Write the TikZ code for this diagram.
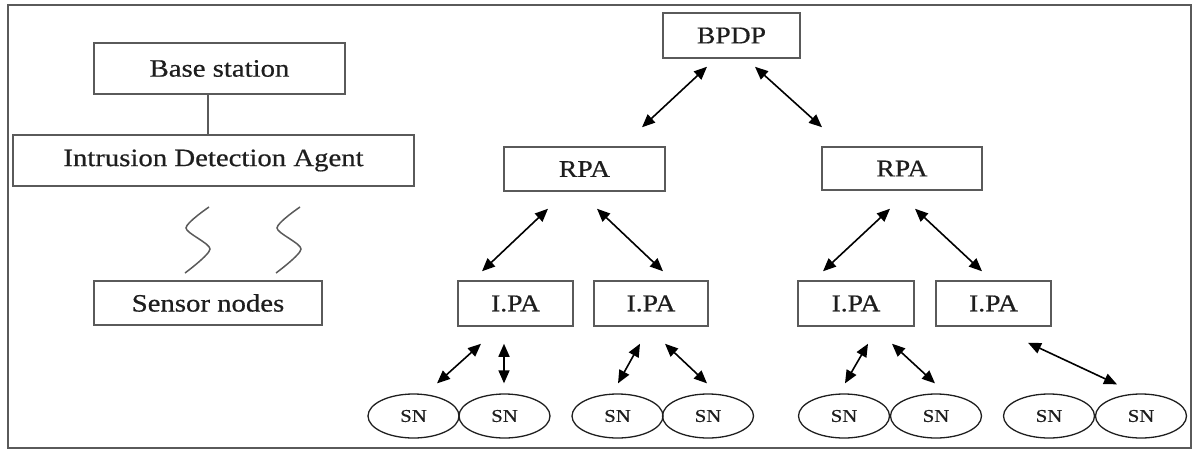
\documentclass[tikz,border=0pt]{standalone}
\usepackage{fontspec}
\setmainfont{Liberation Serif}[FakeStretch=1.15,FakeBold=0.6]
\usetikzlibrary{arrows.meta,shapes.geometric}
\definecolor{boxline}{HTML}{5A5A5A}
\definecolor{ink}{HTML}{1E1E1E}
\begin{document}
\begin{tikzpicture}[x=1pt,y=-1pt,
  box/.style={draw=boxline,line width=1.5pt,text=ink,inner sep=0pt},
  wide/.style={box,font=\fontsize{25}{30}\selectfont},
  agent/.style={box,font=\fontsize{24}{28}\selectfont,minimum height=45pt},
  sensor/.style={draw=ink,line width=1.3pt,ellipse,minimum width=91pt,minimum height=44pt,
    inner sep=0pt,text=ink,font=\fontsize{18}{20}\selectfont},
  link/.style={draw=black,line width=1.6pt,
    {Triangle[length=13pt,width=11pt]}-{Triangle[length=13pt,width=11pt]}},
  wave/.style={draw=boxline,line width=1.5pt}]
\useasboundingbox (0,0) rectangle (1194,450);
% outer frame
\draw[boxline,line width=1.5pt] (8,5) rectangle (1191,448);

% left legend
\node[wide,minimum width=251pt,minimum height=51pt] (bs) at (219.5,68.5) {Base station\hspace{34pt}};
\node[wide,minimum width=401pt,minimum height=51pt] (ida) at (213.5,160.5) {Intrusion Detection Agent};
\node[wide,minimum width=228pt,minimum height=44pt] (snodes) at (208,303) {Sensor nodes\hspace{16pt}};
\draw[boxline,line width=1.5pt] ([xshift=-11.5pt]bs.south) -- ([xshift=-11.5pt]bs.south |- ida.north);

% wireless links
\draw[wave] plot[smooth,tension=0.45] coordinates {(209,207) (186,228) (210,249) (185,273)};
\draw[wave] plot[smooth,tension=0.45] coordinates {(300,207) (277,228) (301,249) (276,273)};

% hierarchy
\node[agent,minimum width=137pt] (bpdp) at (731.5,35.5) {BPDP};
\node[agent,minimum width=161pt,minimum height=44pt] (rpa1) at (584.5,169) {RPA};
\node[agent,minimum width=160pt,minimum height=43pt] (rpa2) at (902,168.5) {RPA};
\node[agent,minimum width=115pt] (lpa1) at (515.5,303.5) {I.PA};
\node[agent,minimum width=114pt] (lpa2) at (651,303.5) {I.PA};
\node[agent,minimum width=116pt] (lpa3) at (856,303.5) {I.PA};
\node[agent,minimum width=115pt] (lpa4) at (993.5,303.5) {I.PA};

\node[sensor] (sn1) at (413.5,416) {SN};
\node[sensor] (sn2) at (504.5,416) {SN};
\node[sensor] (sn3) at (617.5,416) {SN};
\node[sensor] (sn4) at (708,416) {SN};
\node[sensor] (sn5) at (844,416) {SN};
\node[sensor] (sn6) at (936,416) {SN};
\node[sensor] (sn7) at (1049,416) {SN};
\node[sensor] (sn8) at (1141,416) {SN};

% two-way links
\draw[link] ([shift={(-24.5,8)}]bpdp.south) -- ([shift={(57.5,-19)}]rpa1.north);
\draw[link] ([shift={(23.5,8)}]bpdp.south) -- ([shift={(-80,-19)}]rpa2.north);
\draw[link] ([shift={(-36.5,17)}]rpa1.south) -- ([shift={(-33.5,-9)}]lpa1.north);
\draw[link] ([shift={(12.5,17)}]rpa1.south) -- ([shift={(12,-9)}]lpa2.north);
\draw[link] ([shift={(-12,18)}]rpa2.south) -- ([shift={(-33,-9)}]lpa3.north);
\draw[link] ([shift={(13,18)}]rpa2.south) -- ([shift={(-11.5,-9)}]lpa4.north);
\draw[link] ([shift={(-34.5,17)}]lpa1.south) -- ([shift={(23.5,-10)}]sn1.north);
\draw[link] ([shift={(-11.5,17)}]lpa1.south) -- ([shift={(-0.5,-10)}]sn2.north);
\draw[link] ([shift={(-11,17)}]lpa2.south) -- ([shift={(0.5,-10)}]sn3.north);
\draw[link] ([shift={(14,17)}]lpa2.south) -- ([shift={(-1,-10)}]sn4.north);
\draw[link] ([shift={(12,17)}]lpa3.south) -- ([shift={(1,-10)}]sn5.north);
\draw[link] ([shift={(36,17)}]lpa3.south) -- ([shift={(-1,-10)}]sn6.north);
\draw[link] ([shift={(34.5,16)}]lpa4.south) -- ([shift={(-24,-9)}]sn8.north);
\end{tikzpicture}
\end{document}
